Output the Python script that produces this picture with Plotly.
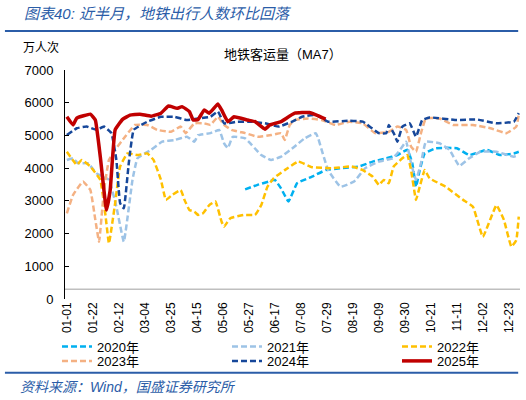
import pandas as pd
import plotly.graph_objects as go

# calendar of a leap year, shown as MM-DD
dates = pd.date_range("2020-01-01", "2020-12-31").strftime("%m-%d").tolist()
tick_labels = ["01-01", "01-22", "02-12", "03-04", "03-25", "04-15", "05-06", "05-27", "06-17",
               "07-08", "07-29", "08-19", "09-09", "09-30", "10-21", "11-11", "12-02", "12-23"]

# day-of-year index and value (万人次)
d2020 = [144, 154, 163, 168, 173, 179, 186, 198, 209, 222, 236, 247, 258, 267, 275, 279, 282, 285,
         289, 298, 315, 325, 339, 350, 361, 365]
v2020 = [3350, 3490, 3590, 3640, 3380, 2980, 3540, 3740, 3940, 4000, 4050, 4200, 4300, 4400, 4560,
         4150, 3430, 3940, 4450, 4610, 4610, 4400, 4560, 4400, 4450, 4500]

d2021 = [0, 5, 9, 17, 24, 34, 40, 46, 53, 57, 68, 77, 87, 97, 103, 106, 116, 123, 127, 130, 134, 144,
         157, 165, 173, 184, 192, 201, 203, 211, 221, 232, 241, 252, 263, 268, 274, 278, 282, 286, 290,
         301, 309, 317, 325, 334, 347, 361, 365]
v2021 = [4250, 4300, 4150, 4150, 3840, 3640, 2820, 1750, 3640, 4300, 4560, 4810, 4860, 4960, 4810,
         5010, 5070, 5170, 4760, 4610, 4960, 4910, 4400, 4250, 4350, 4660, 4910, 5070, 4910, 3940,
         3430, 3590, 4000, 4200, 4300, 4500, 4810, 4150, 3640, 4150, 4810, 4760, 4560, 4070, 4300,
         4500, 4500, 4350, 4400]

d2022 = [0, 8, 12, 19, 27, 31, 34, 39, 43, 49, 57, 65, 70, 76, 80, 85, 92, 95, 99, 103, 106, 110,
         115, 120, 125, 127, 132, 143, 152, 157, 162, 167, 176, 187, 198, 214, 230, 239, 247, 252, 256,
         260, 264, 271, 275, 278, 282, 285, 289, 293, 306, 320, 328, 336, 347, 353, 359, 363, 365]
v2022 = [4500, 4100, 4250, 4050, 3640, 2620, 1700, 2930, 4050, 4450, 4400, 4450, 4250, 3640, 3030,
         3180, 3330, 3030, 2720, 2670, 2570, 2620, 2870, 2980, 2360, 2210, 2470, 2570, 2570, 2870,
         3430, 3690, 3940, 4200, 4030, 4000, 4050, 3940, 3740, 3490, 3640, 3540, 4050, 4300, 4400,
         3940, 3030, 3430, 3940, 3690, 3430, 3030, 2820, 1900, 2870, 2420, 1600, 1800, 2520]

d2023 = [0, 5, 13, 19, 23, 26, 30, 34, 39, 47, 55, 65, 73, 84, 92, 96, 103, 111, 116, 122, 127, 133,
         144, 154, 165, 173, 176, 180, 184, 195, 206, 217, 228, 239, 249, 260, 267, 274, 278, 282,
         286, 290, 301, 312, 328, 342, 355, 363, 365]
v2023 = [2620, 3180, 3590, 3330, 2420, 1750, 3330, 4250, 4560, 4960, 5320, 5320, 5170, 5110, 5270,
         5070, 5370, 5370, 5320, 5570, 5320, 5170, 5070, 4960, 5010, 5070, 4860, 5320, 5470, 5520,
         5470, 5320, 5420, 5370, 5070, 5110, 5270, 5170, 4660, 4500, 5070, 5520, 5520, 5320, 5320,
         5220, 5070, 5270, 5630]

d2024 = [0, 8, 16, 24, 30, 36, 40, 43, 46, 50, 54, 65, 76, 87, 97, 106, 116, 122, 127, 138, 149, 160,
         171, 182, 190, 201, 211, 228, 239, 252, 258, 260, 264, 267, 271, 277, 282, 287, 293, 315,
         331, 347, 361, 365]
v2024 = [5010, 5220, 5270, 5170, 5270, 5070, 4250, 2930, 2770, 4150, 5170, 5420, 5570, 5570, 5470,
         5520, 5570, 5730, 5370, 5420, 5420, 5370, 5270, 5420, 5570, 5630, 5420, 5450, 5420, 5070,
         5070, 5320, 5070, 4810, 5270, 5370, 4960, 5470, 5550, 5470, 5490, 5370, 5420, 5680]

d2025 = [0, 5, 8, 19, 23, 27, 32, 35, 39, 45, 51, 59, 68, 76, 82, 89, 93, 99, 102, 106, 111, 115, 122,
         125, 130, 135, 146, 152, 160, 164, 173, 184, 196, 209]
v2025 = [5570, 5320, 5530, 5650, 5470, 4350, 2720, 3330, 5170, 5490, 5620, 5650, 5590, 5680, 5900,
         5830, 5880, 5730, 5470, 5490, 5780, 5680, 5960, 5780, 5420, 5570, 5470, 5420, 5190, 5320,
         5420, 5680, 5700, 5500]

# name, days, values, colour, width, dash, legend row
series = [
    ("2020年", d2020, v2020, "#00B0F0", 2.5, "6px,3px", "legend"),
    ("2021年", d2021, v2021, "#9DC3E6", 2.5, "6px,3px", "legend"),
    ("2022年", d2022, v2022, "#FFC000", 2.5, "6px,3px", "legend"),
    ("2023年", d2023, v2023, "#F4B183", 2.5, "6px,3px", "legend2"),
    ("2024年", d2024, v2024, "#16479A", 2.5, "6px,3px", "legend2"),
    ("2025年", d2025, v2025, "#C00000", 3.5, "solid", "legend2"),
]

FONT = "Liberation Sans, Arial, Noto Sans CJK SC"
BLUE = "#2B5DA8"

fig = go.Figure()
for name, days, vals, color, w, dash, leg in series:
    fig.add_trace(go.Scatter(
        x=[dates[d] for d in days],
        y=vals,
        mode="lines",
        name=name,
        legend=leg,
        line=dict(color=color, width=w, dash=dash, shape="spline", smoothing=0.3),
    ))

legend_style = dict(orientation="h", x=-0.0176, xanchor="left", yanchor="top",
                    entrywidth=125, entrywidthmode="pixels", itemwidth=30,
                    font=dict(size=13), bgcolor="rgba(0,0,0,0)")

fig.update_layout(
    width=526, height=400,
    margin=dict(l=65, r=6, t=70, b=101, autoexpand=False),
    paper_bgcolor="white", plot_bgcolor="white",
    font=dict(family=FONT, size=13, color="#000000"),
    showlegend=True,
    legend=dict(y=-0.142, **legend_style),
    legend2=dict(y=-0.205, **legend_style),
    xaxis=dict(
        type="category", categoryorder="array", categoryarray=dates, automargin=False,
        range=[-1.5, 366], tickmode="array", tickvals=tick_labels, ticktext=tick_labels,
        tickangle=-90, tickfont=dict(size=12), showgrid=False, showline=False,
        zeroline=False, ticks="",
    ),
    yaxis=dict(
        range=[0, 7000], dtick=1000, showgrid=False, zeroline=False, automargin=False,
        showline=True, linecolor="#000000", linewidth=1,
        ticks="inside", ticklen=4, tickcolor="#000000",
        tickfont=dict(size=13), ticklabelstandoff=8,
    ),
    shapes=[
        dict(type="line", xref="paper", yref="paper", x0=-0.132, x1=0.996, y0=1.170, y1=1.170,
             line=dict(color=BLUE, width=2)),
        dict(type="line", xref="paper", yref="paper", x0=-0.132, x1=0.996, y0=-0.322, y1=-0.322,
             line=dict(color=BLUE, width=2)),
        dict(type="line", xref="paper", yref="y", x0=0, x1=1, y0=300, y1=300,
             line=dict(color="#BFBFBF", width=1.5)),
    ],
    annotations=[
        dict(text="<i>图表40: 近半月，地铁出行人数环比回落</i>", xref="paper", yref="paper",
             x=-0.095, y=1.245, xanchor="left", yanchor="middle", showarrow=False,
             font=dict(size=15, color=BLUE)),
        dict(text="万人次", xref="paper", yref="paper", x=-0.053, y=1.096,
             xanchor="center", yanchor="middle", showarrow=False, font=dict(size=12)),
        dict(text="地铁客运量（MA7）", xref="paper", yref="paper", x=0.479, y=1.066,
             xanchor="center", yanchor="middle", showarrow=False, font=dict(size=13)),
        dict(text="<i>资料来源：Wind，国盛证券研究所</i>", xref="paper", yref="paper",
             x=-0.103, y=-0.383, xanchor="left", yanchor="middle", showarrow=False,
             font=dict(size=14, color=BLUE)),
    ],
)

# page body has an 8px default margin; drop it so the figure sits at the window corner
fig.write_html("out.html", config={"displayModeBar": False},
               post_script="document.body.style.margin='0';")
